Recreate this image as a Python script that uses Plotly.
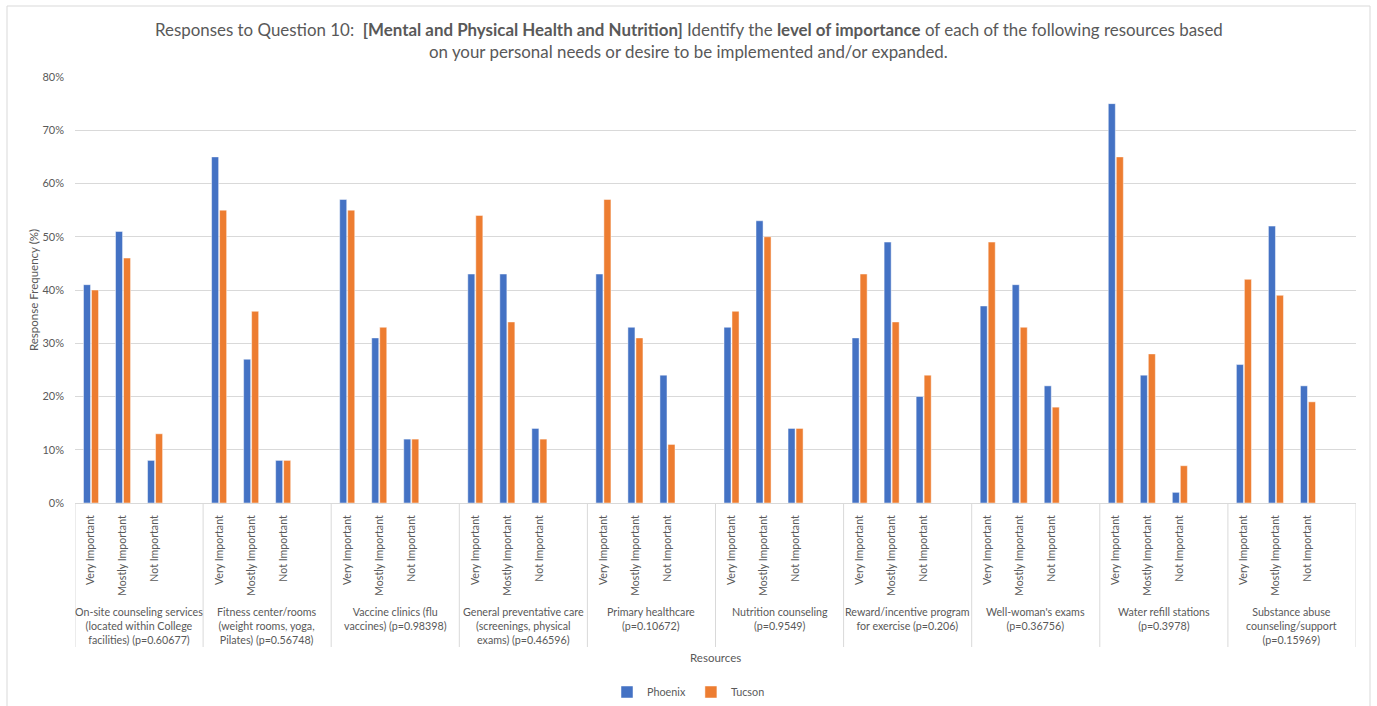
import plotly.graph_objects as go

# ---------------- data ----------------
resources = [
    "On-site counseling services<br>(located within College<br>facilities) (p=0.60677)",
    "Fitness center/rooms<br>(weight rooms, yoga,<br>Pilates) (p=0.56748)",
    "Vaccine clinics (flu<br>vaccines) (p=0.98398)",
    "General preventative care<br>(screenings, physical<br>exams) (p=0.46596)",
    "Primary healthcare<br>(p=0.10672)",
    "Nutrition counseling<br>(p=0.9549)",
    "Reward/incentive program<br>for exercise (p=0.206)",
    "Well-woman's exams<br>(p=0.36756)",
    "Water refill stations<br>(p=0.3978)",
    "Substance abuse<br>counseling/support<br>(p=0.15969)",
]
levels = ["Very Important", "Mostly Important", "Not Important"]

phoenix = [41, 51, 8,
           65, 27, 8,
           57, 31, 12,
           43, 43, 14,
           43, 33, 24,
           33, 53, 14,
           31, 49, 20,
           37, 41, 22,
           75, 24, 2,
           26, 52, 22]
tucson = [40, 46, 13,
          55, 36, 8,
          55, 33, 12,
          54, 34, 12,
          57, 31, 11,
          36, 50, 14,
          43, 34, 24,
          49, 33, 18,
          65, 28, 7,
          42, 39, 19]

y_ticks = [0, 10, 20, 30, 40, 50, 60, 70, 80]
y_ticktext = ["0%", "10%", "20%", "30%", "40%", "50%", "60%", "70%", "80%"]

title_line1 = ("Responses to Question 10:  <b>[Mental and Physical Health and Nutrition]</b> "
               "Identify the <b>level of importance</b> of each of the following resources based")
title_line2 = "on your personal needs or desire to be implemented and/or expanded."

# ---------------- layout helpers ----------------
SLOTS = 4  # 3 levels + one empty slot per group
xpos = [g * SLOTS + j for g in range(len(resources)) for j in range(len(levels))]
xlabels = [levels[j] for g in range(len(resources)) for j in range(len(levels))]

FONT = "Lato"
GREY = "#595959"
LINE = "#d9d9d9"

W, H = 1377, 706
L, R, T, B = 75, 21, 77, 203
plot_h = H - T - B
plot_w = W - L - R

def py(pxy):  # pixel y -> paper y
    return (H - B - pxy) / plot_h

def pxx(px):
    return (px - L) / plot_w

fig = go.Figure()
fig.add_trace(go.Bar(x=xpos, y=phoenix, name="Phoenix",
                     marker=dict(color="#4472C4", line=dict(color="rgba(255,255,255,0.6)", width=0.8))))
fig.add_trace(go.Bar(x=xpos, y=tucson, name="Tucson",
                     marker=dict(color="#ED7D31", line=dict(color="rgba(255,255,255,0.6)", width=0.8))))

shapes = []
# group dividers
for g in range(len(resources) + 1):
    xv = g * SLOTS - 0.5
    shapes.append(dict(type="line", xref="x", yref="paper", x0=xv, x1=xv,
                       y0=0, y1=py(647), line=dict(color=LINE, width=1)))
# chart border
shapes.append(dict(type="rect", xref="paper", yref="paper",
                   x0=pxx(7), x1=pxx(1370), y0=py(730), y1=py(6),
                   line=dict(color=LINE, width=1), fillcolor="rgba(0,0,0,0)", layer="below"))

annotations = []
for g, name in enumerate(resources):
    annotations.append(dict(x=g * SLOTS + 1.5, xref="x", y=py(603), yref="paper",
                            text=name, showarrow=False, xanchor="center", yanchor="top",
                            align="center", font=dict(family=FONT, size=10.7, color=GREY)))
annotations.append(dict(x=0.5, xref="paper", y=py(657), yref="paper", text="Resources",
                        showarrow=False, xanchor="center", yanchor="middle",
                        font=dict(family=FONT, size=11.5, color=GREY)))
# title (two centred lines)
annotations.append(dict(x=pxx(W / 2), xref="paper", y=py(29.5), yref="paper", text=title_line1,
                        showarrow=False, xanchor="center", yanchor="middle",
                        font=dict(family=FONT, size=16.9, color=GREY)))
annotations.append(dict(x=pxx(W / 2), xref="paper", y=py(51), yref="paper", text=title_line2,
                        showarrow=False, xanchor="center", yanchor="middle",
                        font=dict(family=FONT, size=16.9, color=GREY)))

fig.update_layout(
    width=W, height=H,
    margin=dict(l=L, r=R, t=T, b=B, autoexpand=False),
    paper_bgcolor="white", plot_bgcolor="white",
    barmode="group", bargap=0.5, bargroupgap=0.12,
    xaxis=dict(range=[-0.5, len(resources) * SLOTS - 0.5], tickmode="array",
               tickvals=xpos, ticktext=xlabels, tickangle=-90,
               tickfont=dict(family=FONT, size=10.6, color=GREY),
               showgrid=False, zeroline=False, showline=True, linecolor=LINE, linewidth=1,
               ticks="", ticklabelstandoff=7, fixedrange=True),
    yaxis=dict(range=[0, 80], tickmode="array", tickvals=y_ticks, ticktext=y_ticktext,
               tickfont=dict(family=FONT, size=11, color=GREY),
               showgrid=True, gridcolor=LINE, gridwidth=1, zeroline=False, showline=False,
               ticks="", ticklabelstandoff=10,
               title=dict(text="Response Frequency (%)", standoff=1,
                          font=dict(family=FONT, size=11.5, color=GREY))),
    legend=dict(orientation="h", x=0.5, xref="container", xanchor="center",
                y=py(692), yanchor="middle", itemwidth=30,
                font=dict(family=FONT, size=10.8, color=GREY)),
    shapes=shapes, annotations=annotations,
)

fig.write_html("out.html")
